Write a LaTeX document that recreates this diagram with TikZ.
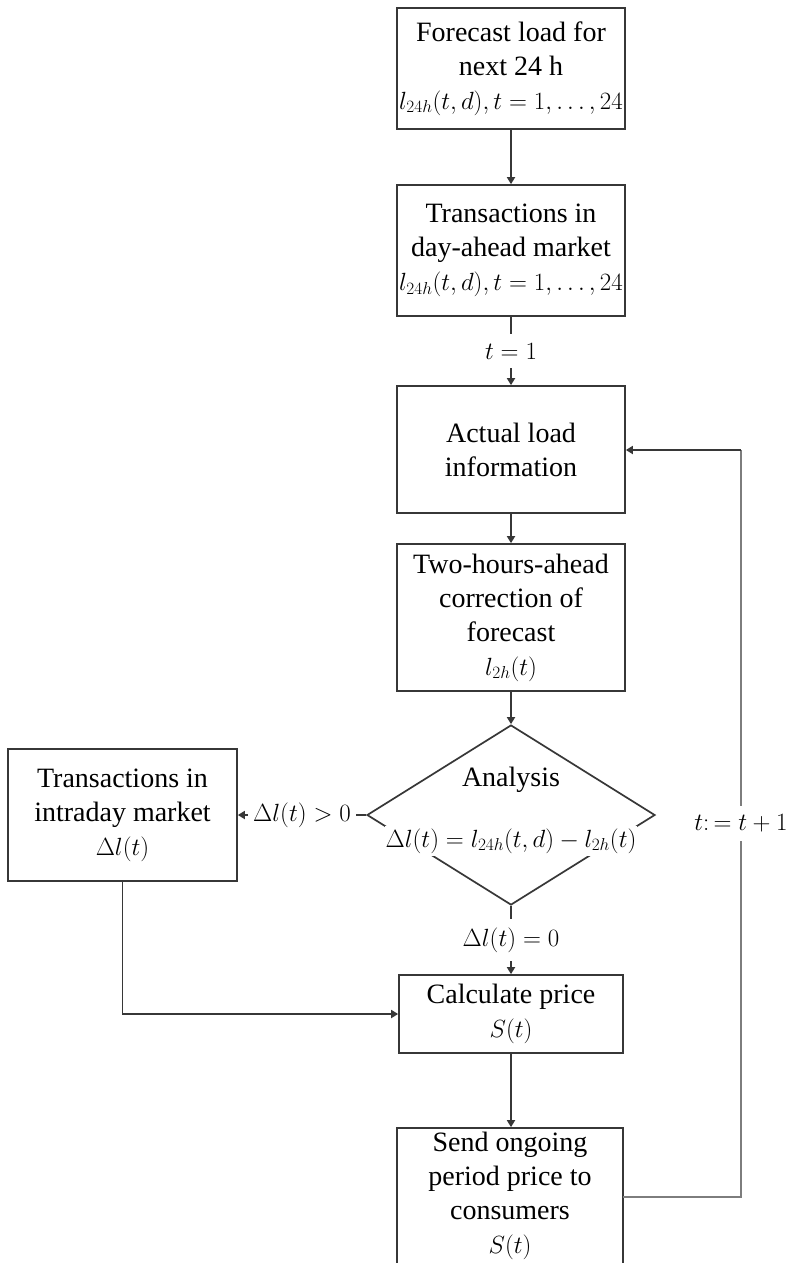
\documentclass[tikz,border=0pt]{standalone}
\usepackage{fontspec}
\setmainfont{Liberation Serif}
\usetikzlibrary{arrows.meta,shapes.geometric}
\definecolor{ln}{RGB}{55,55,55}
\definecolor{lp}{RGB}{125,125,125}
\newcommand\txtsz{\fontsize{28}{34}\selectfont}
\newcommand\mm[1]{{\fontsize{23}{28}\selectfont$#1$}}
\begin{document}
\begin{tikzpicture}[x=1pt,y=-1pt,
  box/.style={draw=ln, line width=1.7pt, minimum width=228pt, align=center, inner sep=0pt, font=\txtsz},
  txt/.style={align=center, inner sep=0pt, font=\txtsz},
  arr/.style={draw=ln, line width=1.7pt, -{Triangle[length=7pt,width=8pt]}},
  lbl/.style={fill=white, inner xsep=5pt, inner ysep=9pt, text=black}]
\clip (0,0) rectangle (788,1263);
\fill[white] (0,0) rectangle (788,1263);
% boxes
\node[box, minimum height=121pt] (fc) at (511,68.5) {Forecast load for\\next 24 h\\\mm{l_{24h}(t,d), t=1,\ldots,24}};
\node[box, minimum height=131pt] (da) at (511,250.5) {Transactions in\\day-ahead market\\\mm{l_{24h}(t,d), t=1,\ldots,24}};
\node[box, minimum height=127pt] (al) at (511,449.5) {Actual load\\information};
\node[box, minimum height=147pt] (th) at (511,617.5) {Two-hours-ahead\\correction of\\forecast\\\mm{l_{2h}(t)}};
\node[draw=ln, line width=1.7pt, diamond, minimum width=288pt, minimum height=180pt, inner sep=0pt] (dia) at (511,815) {};
\node[txt] (ana) at (511,780) {Analysis};
\node[fill=white, minimum width=252pt, minimum height=30pt, inner sep=0pt] (frm) at (511,841) {\mm{\Delta l(t) = l_{24h}(t,d) - l_{2h}(t)}};
\node[box, minimum width=229pt, minimum height=132pt] (intra) at (122.5,815) {Transactions in\\intraday market\\\mm{\Delta l(t)}};
\node[box, minimum width=224pt, minimum height=78pt] (calc) at (511,1014) {Calculate price\\\mm{S(t)}};
\node[box, minimum width=226pt, minimum height=170pt] (send) at (510,1213) {};
\node[txt] (sendtxt) at (510,1196) {Send ongoing\\period price to\\consumers\\\mm{S(t)}};
% connectors
\draw[arr] (fc) -- (da);
\draw[arr] (da) -- node[lbl]{\mm{t=1}} (al);
\draw[arr] (al) -- (th);
\draw[arr] (th) -- (dia.north);
\draw[arr] (dia.west) -- node[lbl]{\mm{\Delta l(t) > 0}} (intra.east);
\draw[arr] (dia.south) -- node[lbl]{\mm{\Delta l(t) = 0}} (calc);
\draw[arr] (intra.south) |- (calc.west);
\draw[arr] (calc.south) -- (calc.south |- send.north);
\coordinate (c0) at (623,1197);
\coordinate (c1) at (741,1197);
\coordinate (c2) at (741,450);
\draw[draw=lp, line width=1.8pt] (c0) -- (c1) -- node[lbl]{\mm{t\colon = t + 1}} (c2);
\draw[arr] (c2) -- (al.east |- c2);
\end{tikzpicture}
\end{document}
